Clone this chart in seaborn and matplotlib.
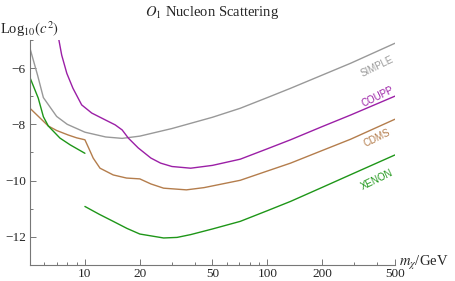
import numpy as np
import pandas as pd
import matplotlib
matplotlib.use("Agg")
import matplotlib.pyplot as plt
import matplotlib.ticker as mticker
import seaborn as sns

# limits (log10 c^2 vs m_chi / GeV)
simple_m = [5, 5.5, 5.92, 7, 8, 10, 13, 16, 20, 30, 50, 71, 100, 134, 200, 286, 500]
simple_v = [-5.3, -6.25, -7.05, -7.72, -8.0, -8.28, -8.45, -8.5, -8.42, -8.15, -7.75, -7.43, -7.05, -6.72, -6.25, -5.83, -5.12]

coupp_m = [7.2, 7.46, 7.96, 8.6, 9.6, 10.9, 12.9, 14.65, 16.0, 17.3, 19.6, 23, 26, 30, 38, 50, 71, 100, 134, 200, 286, 500]
coupp_v = [-5.0, -5.54, -6.19, -6.72, -7.31, -7.6, -7.84, -8.02, -8.2, -8.49, -8.84, -9.2, -9.38, -9.5, -9.56, -9.46, -9.24, -8.87, -8.55, -8.08, -7.67, -7.0]

cdms_m = [5, 6.3, 7, 8.1, 9, 10, 10.5, 11.1, 12.1, 14.3, 16.9, 20, 23, 27, 36, 45, 71, 100, 134, 200, 286, 500]
cdms_v = [-7.43, -8.06, -8.22, -8.38, -8.48, -8.55, -8.85, -9.2, -9.56, -9.8, -9.91, -9.94, -10.12, -10.27, -10.33, -10.25, -9.99, -9.66, -9.38, -8.93, -8.53, -7.82]

xenon_lo_m = [5, 5.55, 5.92, 6.3, 7.3, 8.3, 10]
xenon_lo_v = [-6.34, -7.07, -7.73, -8.06, -8.49, -8.73, -9.03]
xenon_hi_m = [10, 12, 14.3, 17, 20, 27, 32, 38, 50, 71, 100, 134, 200, 286, 500]
xenon_hi_v = [-10.92, -11.2, -11.45, -11.7, -11.9, -12.04, -12.02, -11.92, -11.72, -11.45, -11.07, -10.74, -10.24, -9.79, -9.09]

colors = {"SIMPLE": "#999999", "COUPP": "#9b1fa6", "CDMS": "#b47d4c", "XENON": "#1e9618"}
label_y = {"SIMPLE": -5.95, "COUPP": -7.02, "CDMS": -8.49, "XENON": -9.97}

rows = []
for name, seg, ms, vs in [("SIMPLE", 0, simple_m, simple_v),
                          ("COUPP", 1, coupp_m, coupp_v),
                          ("CDMS", 2, cdms_m, cdms_v),
                          ("XENON", 3, xenon_lo_m, xenon_lo_v),
                          ("XENON", 4, xenon_hi_m, xenon_hi_v)]:
    for m, v in zip(ms, vs):
        rows.append({"exp": name, "seg": seg, "m": m, "v": v})
df = pd.DataFrame(rows)

sns.set_style("ticks")
plt.rcParams["font.family"] = ["Liberation Serif", "DejaVu Serif"]
plt.rcParams["mathtext.fontset"] = "stix"

fig = plt.figure(figsize=(4.55, 2.81), dpi=100)
ax = fig.add_axes([0.0659, 0.057, 0.802, 0.801])

sns.lineplot(data=df, x="m", y="v", hue="exp", units="seg", estimator=None,
             sort=False, palette=colors, legend=False, lw=1.0, ax=ax)

ax.set_xscale("log")
ax.set_xlim(5, 500)
ax.set_ylim(-13, -5)
ax.xaxis.set_major_locator(mticker.FixedLocator([10, 20, 50, 100, 200, 500]))
ax.xaxis.set_major_formatter(mticker.FixedFormatter(["10", "20", "50", "100", "200", "500"]))
ax.xaxis.set_minor_locator(mticker.FixedLocator([6, 7, 8, 9, 30, 40, 60, 70, 80, 90, 300, 400]))
ax.xaxis.set_minor_formatter(mticker.NullFormatter())
ax.yaxis.set_major_locator(mticker.FixedLocator([-6, -8, -10, -12]))
ax.yaxis.set_minor_locator(mticker.FixedLocator([-5, -7, -9, -11, -13]))
ax.tick_params(which="both", direction="in", labelsize=9.5, color="#777777", width=0.7)
ax.tick_params(which="major", length=4)
ax.tick_params(which="minor", length=2)
ax.tick_params(axis="x", pad=2)
ax.tick_params(axis="y", pad=3)
for s in ["top", "right"]:
    ax.spines[s].set_visible(False)
for s in ["left", "bottom"]:
    ax.spines[s].set_color("#777777")
    ax.spines[s].set_linewidth(0.8)
ax.set_xlabel("")
ax.set_ylabel("")

for name, yv in label_y.items():
    ax.text(401, yv, name, color=colors[name], fontsize=7, rotation=26,
            ha="center", va="center", family=["Liberation Sans", "DejaVu Sans"])

fig.text(0.466, 0.955, r"$O_1$ Nucleon Scattering", ha="center", va="center", fontsize=10.5)
fig.text(0.0, 0.895, r"Log$_{10}(c^2)$", ha="left", va="center", fontsize=10.5)
fig.text(0.878, 0.064, r"$m_\chi$/GeV", ha="left", va="center", fontsize=10.5)

plt.savefig("out.png", dpi=100)
